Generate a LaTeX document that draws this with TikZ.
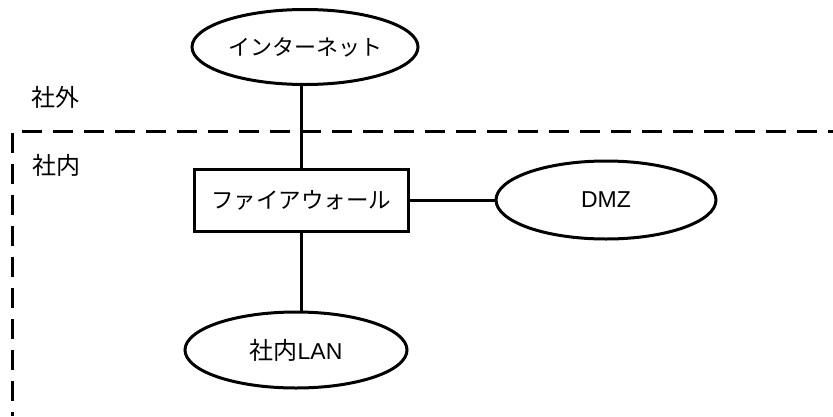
\documentclass[tikz,border=0pt]{standalone}
\usepackage{fontspec}
\setmainfont{Liberation Sans}
\newfontfamily\jpfont{Noto Sans CJK JP}
\usetikzlibrary{shapes.geometric}
\tikzset{
  net/.style={draw, line width=3pt, ellipse, inner sep=0pt, font=\fontsize{23}{26}\selectfont},
  fwbox/.style={draw, line width=3pt, rectangle, inner sep=0pt, font=\fontsize{23}{26}\selectfont},
  link/.style={line width=3pt},
  zone/.style={line width=3pt, dash pattern=on 20pt off 11pt},
  zonelabel/.style={font=\fontsize{24}{26}\selectfont\jpfont},
}
\begin{document}
\begin{tikzpicture}[x=1pt, y=-1pt]
  \useasboundingbox (0,0) rectangle (833,416);
  % network nodes
  \node[net, minimum width=226pt, minimum height=75pt] (inet) at (305,47) {\jpfont\fontsize{22}{26}\selectfont インターネット};
  \node[fwbox, minimum width=214pt, minimum height=62pt] (fw) at (301,200) {\jpfont\fontsize{22.5}{26}\selectfont ファイアウォール};
  \node[net, minimum width=220pt, minimum height=78pt] (dmz) at (606,200) {DMZ};
  \node[net, minimum width=222pt, minimum height=76pt] (lan) at (296,350) {{\jpfont\fontsize{24}{26}\selectfont 社内}LAN};
  % connectors
  \draw[link] (inet.south -| fw.north) -- (fw.north);
  \draw[link] (fw.east) -- (dmz.west);
  \draw[link] (fw.south) -- (fw.south |- lan.north);
  % zone boundary
  \coordinate (zh0) at (22,131);
  \coordinate (zh1) at (833,131);
  \coordinate (zv0) at (12,133);
  \coordinate (zv1) at (12,416);
  \draw[zone] (zh0) -- (zh1);
  \draw[zone] (zv0) -- (zv1);
  % zone labels
  \node[zonelabel] (outside) at (55,97) {社外};
  \node[zonelabel] (inside) at (56,165) {社内};
\end{tikzpicture}
\end{document}
